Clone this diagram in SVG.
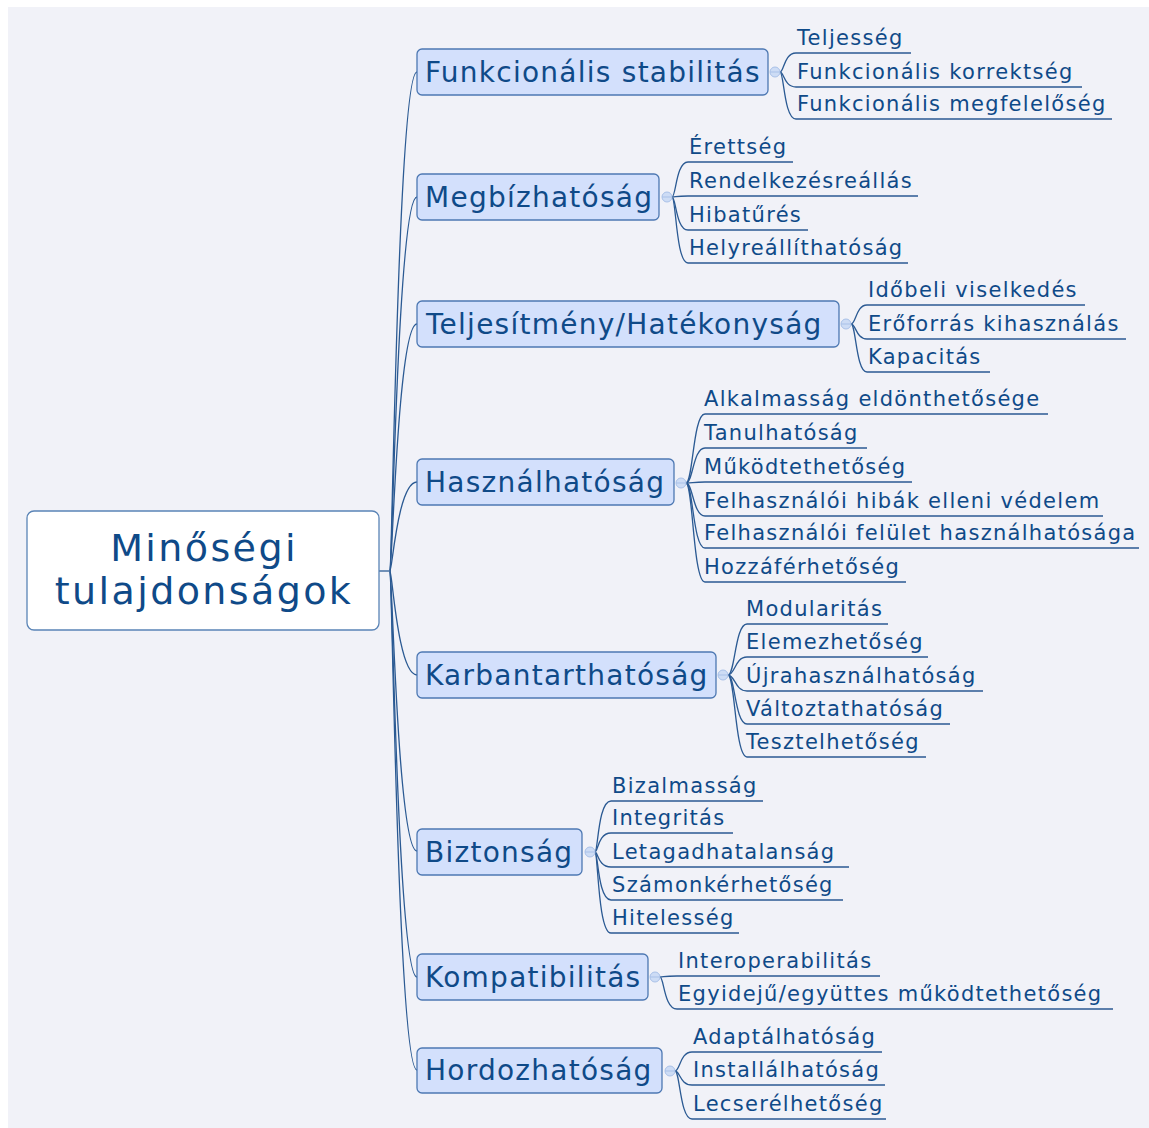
<svg xmlns="http://www.w3.org/2000/svg" width="1149" height="1128" viewBox="0 0 1149 1128">
<style>
.bg{fill:#f1f2f8}
.root{fill:#ffffff;stroke:#5a84b6;stroke-width:1.3}
.rt{font-family:"DejaVu Sans",Verdana,sans-serif;font-size:38px;fill:#0f4a88;text-anchor:middle;letter-spacing:2.4px}
.br{fill:#d3e0fc;stroke:#4d78b2;stroke-width:1.3}
.bt{font-family:"DejaVu Sans",Verdana,sans-serif;font-size:28px;fill:#0f4a88;letter-spacing:1.25px}
.lt{font-family:"DejaVu Sans",Verdana,sans-serif;font-size:21px;fill:#0f4a88;letter-spacing:1.3px}
.mc{fill:none;stroke:#2b5a93;stroke-width:1.3}
.lc{fill:none;stroke:#2b5a93;stroke-width:1.3}
.hub{fill:#cddcf5;stroke:#a9c1e8;stroke-width:1}
.hl{stroke:#a9c1e8;stroke-width:1}
</style>
<rect x="0" y="0" width="1149" height="1128" fill="#ffffff"/>
<rect class="bg" x="8" y="7" width="1141" height="1121"/>
<g id="connectors">
<path class="mc" d="M379,571 L390,571"/>
<path class="mc" d="M390,571 C392,571 398,72 417,72"/>
<path class="mc" d="M390,571 C392,571 398,197 417,197"/>
<path class="mc" d="M390,571 C392,571 398,324 417,324"/>
<path class="mc" d="M390,571 C392,571 398,482 417,482"/>
<path class="mc" d="M390,571 C392,571 398,675 417,675"/>
<path class="mc" d="M390,571 C392,571 398,851 417,851"/>
<path class="mc" d="M390,571 C392,571 398,977 417,977"/>
<path class="mc" d="M390,571 C392,571 398,1070 417,1070"/>
<path class="lc" d="M780,72 C784,72 784,53 796,53 L911,53"/>
<path class="lc" d="M780,72 C784,72 784,87 796,87 L1082,87"/>
<path class="lc" d="M780,72 C784,72 784,119 796,119 L1112,119"/>
<path class="lc" d="M672,197 C676,197 676,162 688,162 L793,162"/>
<path class="lc" d="M672,197 C676,197 676,196 688,196 L918,196"/>
<path class="lc" d="M672,197 C676,197 676,230 688,230 L808,230"/>
<path class="lc" d="M672,197 C676,197 676,263 688,263 L908,263"/>
<path class="lc" d="M851,324 C856,324 856,305 867,305 L1085,305"/>
<path class="lc" d="M851,324 C856,324 856,339 867,339 L1126,339"/>
<path class="lc" d="M851,324 C856,324 856,372 867,372 L990,372"/>
<path class="lc" d="M686,483 C693,483 693,414 705,414 L1048,414"/>
<path class="lc" d="M686,483 C693,483 693,448 705,448 L867,448"/>
<path class="lc" d="M686,483 C693,483 693,482 705,482 L912,482"/>
<path class="lc" d="M686,483 C693,483 693,516 705,516 L1103,516"/>
<path class="lc" d="M686,483 C693,483 693,548 705,548 L1139,548"/>
<path class="lc" d="M686,483 C693,483 693,582 705,582 L906,582"/>
<path class="lc" d="M728,675 C735,675 735,624 747,624 L888,624"/>
<path class="lc" d="M728,675 C735,675 735,657 747,657 L928,657"/>
<path class="lc" d="M728,675 C735,675 735,691 747,691 L983,691"/>
<path class="lc" d="M728,675 C735,675 735,724 747,724 L950,724"/>
<path class="lc" d="M728,675 C735,675 735,757 747,757 L926,757"/>
<path class="lc" d="M595,852 C598,852 598,801 611,801 L763,801"/>
<path class="lc" d="M595,852 C598,852 598,833 611,833 L733,833"/>
<path class="lc" d="M595,852 C598,852 598,867 611,867 L849,867"/>
<path class="lc" d="M595,852 C598,852 598,900 611,900 L843,900"/>
<path class="lc" d="M595,852 C598,852 598,933 611,933 L739,933"/>
<path class="lc" d="M660,977 C664,977 664,976 677,976 L880,976"/>
<path class="lc" d="M660,977 C664,977 664,1009 677,1009 L1113,1009"/>
<path class="lc" d="M675,1071 C680,1071 680,1052 692,1052 L882,1052"/>
<path class="lc" d="M675,1071 C680,1071 680,1085 692,1085 L885,1085"/>
<path class="lc" d="M675,1071 C680,1071 680,1119 692,1119 L886,1119"/>
</g>
<g id="root">
<rect class="root" x="27" y="511" width="352" height="119" rx="7"/>
<text class="rt" x="204" y="561">Minőségi</text>
<text class="rt" x="204" y="604">tulajdonságok</text>
</g>
<g id="n1">
<rect class="br" x="417" y="49" width="351" height="46" rx="5"/>
<text class="bt" x="425" y="82">Funkcionális stabilitás</text>
<circle class="hub" cx="775" cy="72" r="5"/><line class="hl" x1="770" y1="72" x2="780" y2="72"/>
<text class="lt" x="797" y="45">Teljesség</text>
<text class="lt" x="797" y="79">Funkcionális korrektség</text>
<text class="lt" x="797" y="111">Funkcionális megfelelőség</text>
</g>
<g id="n2">
<rect class="br" x="417" y="174" width="242" height="46" rx="5"/>
<text class="bt" x="425" y="207">Megbízhatóság</text>
<circle class="hub" cx="667" cy="197" r="5"/><line class="hl" x1="662" y1="197" x2="672" y2="197"/>
<text class="lt" x="689" y="154">Érettség</text>
<text class="lt" x="689" y="188">Rendelkezésreállás</text>
<text class="lt" x="689" y="222">Hibatűrés</text>
<text class="lt" x="689" y="255">Helyreállíthatóság</text>
</g>
<g id="n3">
<rect class="br" x="417" y="301" width="422" height="46" rx="5"/>
<text class="bt" x="426" y="334">Teljesítmény/Hatékonyság</text>
<circle class="hub" cx="846" cy="324" r="5"/><line class="hl" x1="841" y1="324" x2="851" y2="324"/>
<text class="lt" x="868" y="297">Időbeli viselkedés</text>
<text class="lt" x="868" y="331">Erőforrás kihasználás</text>
<text class="lt" x="868" y="364">Kapacitás</text>
</g>
<g id="n4">
<rect class="br" x="417" y="459" width="257" height="46" rx="5"/>
<text class="bt" x="425" y="492">Használhatóság</text>
<circle class="hub" cx="681" cy="483" r="5"/><line class="hl" x1="676" y1="483" x2="686" y2="483"/>
<text class="lt" x="704" y="406">Alkalmasság eldönthetősége</text>
<text class="lt" x="704" y="440">Tanulhatóság</text>
<text class="lt" x="704" y="474">Működtethetőség</text>
<text class="lt" x="704" y="508">Felhasználói hibák elleni védelem</text>
<text class="lt" x="704" y="540">Felhasználói felület használhatósága</text>
<text class="lt" x="704" y="574">Hozzáférhetőség</text>
</g>
<g id="n5">
<rect class="br" x="417" y="652" width="299" height="46" rx="5"/>
<text class="bt" x="425" y="685">Karbantarthatóság</text>
<circle class="hub" cx="723" cy="675" r="5"/><line class="hl" x1="718" y1="675" x2="728" y2="675"/>
<text class="lt" x="746" y="616">Modularitás</text>
<text class="lt" x="746" y="649">Elemezhetőség</text>
<text class="lt" x="746" y="683">Újrahasználhatóság</text>
<text class="lt" x="746" y="716">Változtathatóság</text>
<text class="lt" x="746" y="749">Tesztelhetőség</text>
</g>
<g id="n6">
<rect class="br" x="417" y="829" width="165" height="46" rx="5"/>
<text class="bt" x="425" y="862">Biztonság</text>
<circle class="hub" cx="590" cy="852" r="5"/><line class="hl" x1="585" y1="852" x2="595" y2="852"/>
<text class="lt" x="612" y="793">Bizalmasság</text>
<text class="lt" x="612" y="825">Integritás</text>
<text class="lt" x="612" y="859">Letagadhatalanság</text>
<text class="lt" x="612" y="892">Számonkérhetőség</text>
<text class="lt" x="612" y="925">Hitelesség</text>
</g>
<g id="n7">
<rect class="br" x="417" y="954" width="231" height="46" rx="5"/>
<text class="bt" x="425" y="987">Kompatibilitás</text>
<circle class="hub" cx="655" cy="977" r="5"/><line class="hl" x1="650" y1="977" x2="660" y2="977"/>
<text class="lt" x="678" y="968">Interoperabilitás</text>
<text class="lt" x="678" y="1001">Egyidejű/együttes működtethetőség</text>
</g>
<g id="n8">
<rect class="br" x="417" y="1048" width="245" height="45" rx="5"/>
<text class="bt" x="425" y="1080">Hordozhatóság</text>
<circle class="hub" cx="670" cy="1071" r="5"/><line class="hl" x1="665" y1="1071" x2="675" y2="1071"/>
<text class="lt" x="693" y="1044">Adaptálhatóság</text>
<text class="lt" x="693" y="1077">Installálhatóság</text>
<text class="lt" x="693" y="1111">Lecserélhetőség</text>
</g>
</svg>
